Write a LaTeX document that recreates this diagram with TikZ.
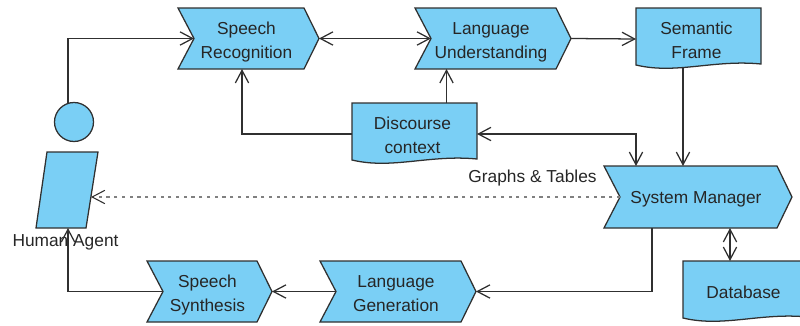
\documentclass[tikz,border=0pt]{standalone}
\usepackage{fontspec}
\setmainfont{Liberation Sans}
\usetikzlibrary{arrows.meta,calc}
\definecolor{bluefill}{HTML}{7ACFF5}
\definecolor{inkline}{HTML}{303030}
\newdimen\cxa \newdimen\cya \newdimen\cxb \newdimen\cyb \newdimen\cxw \newdimen\cyh
\newcommand{\topstrut}[1]{\rule{0pt}{#1}}
\makeatletter
\def\grabbox{\southwest \global\cxa=\pgf@x \global\cya=\pgf@y \northeast \global\cxb=\pgf@x \global\cyb=\pgf@y
 \global\advance\cxb by 3pt
 \global\cxw=\cxb \global\advance\cxw by -\cxa \global\cyh=\cyb \global\advance\cyh by -\cya}
\def\inheritboxanchors{%
 \inheritsavedanchors[from=rectangle]
 \inheritanchorborder[from=rectangle]
 \inheritanchor[from=rectangle]{center}
 \inheritanchor[from=rectangle]{north}
 \inheritanchor[from=rectangle]{south}
 \inheritanchor[from=rectangle]{east}
 \inheritanchor[from=rectangle]{west}
 \inheritanchor[from=rectangle]{north east}
 \inheritanchor[from=rectangle]{north west}
 \inheritanchor[from=rectangle]{south east}
 \inheritanchor[from=rectangle]{south west}
 \anchor{exit}{\grabbox \pgf@x=\cxb \pgf@y=.5\cya \advance\pgf@y by .5\cyb}}
\pgfdeclareshape{chevbox}{
 \inheritboxanchors
 \anchor{notch}{\grabbox \pgf@x=\cxa \advance\pgf@x by 12pt \pgf@y=.5\cya \advance\pgf@y by .5\cyb}
 \backgroundpath{\grabbox
  \pgfpathmoveto{\pgfqpoint{\cxa}{\cyb}}
  \pgfpathlineto{\pgfpointadd{\pgfqpoint{\cxb}{\cyb}}{\pgfqpoint{-11.25pt}{0pt}}}
  \pgfpathlineto{\pgfqpoint{\cxb}{\dimexpr(\cya+\cyb)/2\relax}}
  \pgfpathlineto{\pgfpointadd{\pgfqpoint{\cxb}{\cya}}{\pgfqpoint{-11.25pt}{0pt}}}
  \pgfpathlineto{\pgfqpoint{\cxa}{\cya}}
  \pgfpathlineto{\pgfqpoint{\dimexpr\cxa+12pt\relax}{\dimexpr(\cya+\cyb)/2\relax}}
  \pgfpathclose}
}
\pgfdeclareshape{wavedoc}{
 \inheritboxanchors
 \backgroundpath{\grabbox
  \pgfpathmoveto{\pgfqpoint{\cxa}{\cyb}}
  \pgfpathlineto{\pgfqpoint{\cxb}{\cyb}}
  \pgfpathlineto{\pgfqpoint{\cxb}{\dimexpr\cya+4.5pt\relax}}
  \pgfpathcurveto
   {\pgfqpoint{\dimexpr\cxa+.62\cxw\relax}{\dimexpr\cya+8pt\relax}}
   {\pgfqpoint{\dimexpr\cxa+.32\cxw\relax}{\dimexpr\cya-3.5pt\relax}}
   {\pgfqpoint{\cxa}{\dimexpr\cya+3.75pt\relax}}
  \pgfpathclose}
}
\pgfdeclareshape{leanbox}{
 \inheritboxanchors
 \backgroundpath{\southwest \global\cxa=\pgf@x \global\cya=\pgf@y \northeast \global\cxb=\pgf@x \global\cyb=\pgf@y
  \pgfpathmoveto{\pgfqpoint{\dimexpr\cxa+8.25pt\relax}{\cyb}}
  \pgfpathlineto{\pgfqpoint{\cxb}{\cyb}}
  \pgfpathlineto{\pgfqpoint{\dimexpr\cxb-9pt\relax}{\cya}}
  \pgfpathlineto{\pgfqpoint{\cxa}{\cya}}
  \pgfpathclose}
}
\makeatother
\tikzset{
 x=0.75pt,y=-0.75pt,
 every node/.style={font=\fontsize{13pt}{18pt}\selectfont,text=black!85,inner sep=0pt,outer sep=0pt},
 solidbox/.style={draw=inkline,line width=0.95pt,fill=bluefill,align=center},
 lowered/.style={solidbox,execute at end node={\rule[-3.5pt]{0pt}{3.5pt}}},
 chev/.style 2 args={lowered,shape=chevbox,minimum width=#1*0.75pt,minimum height=#2*0.75pt},
 wdoc/.style 2 args={lowered,shape=wavedoc,minimum width=#1*0.75pt,minimum height=#2*0.75pt},
 lean/.style 2 args={solidbox,shape=leanbox,minimum width=#1*0.75pt,minimum height=#2*0.75pt},
 conn/.style={draw=inkline,line width=0.95pt},
 tipone/.style={conn,-{Straight Barb[length=9.5pt,width=10pt]}},
 tiptwo/.style={conn,{Straight Barb[length=9.5pt,width=10pt]}-{Straight Barb[length=9.5pt,width=10pt]}},
 dots/.style={draw=black!50,line width=0.8pt,dash pattern=on 2.4pt off 3.4pt,
   -{Straight Barb[length=9.5pt,width=10pt,color=inkline]}},
}
\begin{document}
\begin{tikzpicture}
\clip (0,0) rectangle (800,325);
\path[use as bounding box] (0,0) rectangle (800,325);
% nodes
\node[chev={137}{61}] (sr) at (246.5,38.5) {\topstrut{15pt}Speech\\Recognition};
\node[chev={152}{61}] (lu) at (491,38.5) {\topstrut{15pt}Language\\Understanding};
\node[wdoc={121}{62}] (sf) at (696.5,39) {\topstrut{15pt}Semantic\\Frame};
\node[wdoc={121}{62}] (dc) at (412.5,134) {\topstrut{15pt}Discourse\\context};
\node[chev={184}{62}] (sm) at (696,197) {\topstrut{13pt}System Manager};
\node[chev={121}{61}] (ss) at (207.5,291.5) {\topstrut{15pt}Speech\\Synthesis};
\node[chev={152}{61}] (lg) at (396,291.5) {\topstrut{15pt}Language\\Generation};
\node[wdoc={121}{62}] (db) at (743.5,292) {\topstrut{12.5pt}Database};
\node[circle,solidbox,minimum size=29.25pt] (hh) at (74,122) {};
\node[lean={62}{76}] (hb) at (67,190) {};
\node (hl) at (65.5,242) {Human Agent};
\node (gt) at (532.5,178) {Graphs \& Tables};
% connector ends away from the box centres
\coordinate (srb) at ($(sr.south west)+(64,0)$);
\coordinate (lub) at ($(lu.south west)+(31.5,0)$);
\coordinate (dct) at ($(dc.north west)+(94.5,0)$);
\coordinate (sfb) at ($(sf.south west)+(47,-2.5)$);
\coordinate (smt) at ($(sm.north west)+(32,0)$);
\coordinate (smf) at ($(sm.north west)+(79,0)$);
\coordinate (smb) at ($(sm.south west)+(48,0)$);
\coordinate (smd) at ($(sm.south west)+(126,0)$);
\coordinate (dbt) at ($(db.north west)+(47,0)$);
\coordinate (hbr) at ($(hb.north east)+(-7,45)$);
\coordinate (hbb) at ($(hb.south west)+(32,0)$);
% connectors
\draw[tipone] (hh.108) |- (sr.notch);
\draw[tiptwo] (sr.exit) -- (lu.notch);
\draw[tipone] (lu.exit) -- (sf.west);
\draw[tipone] (dc.west) -| (srb);
\draw[tipone] (dct) -- (lub);
\draw[tiptwo] (dc.exit) -| (smt);
\draw[tipone] (sfb) -- (smf);
\draw[dots] (sm.notch) -- (hbr);
\draw[tipone] (smb) |- (lg.exit);
\draw[tiptwo] (smd) -- (dbt);
\draw[tipone] (lg.notch) -- (ss.exit);
\draw[tipone] (ss.notch) -| (hbb);
\end{tikzpicture}
\end{document}
